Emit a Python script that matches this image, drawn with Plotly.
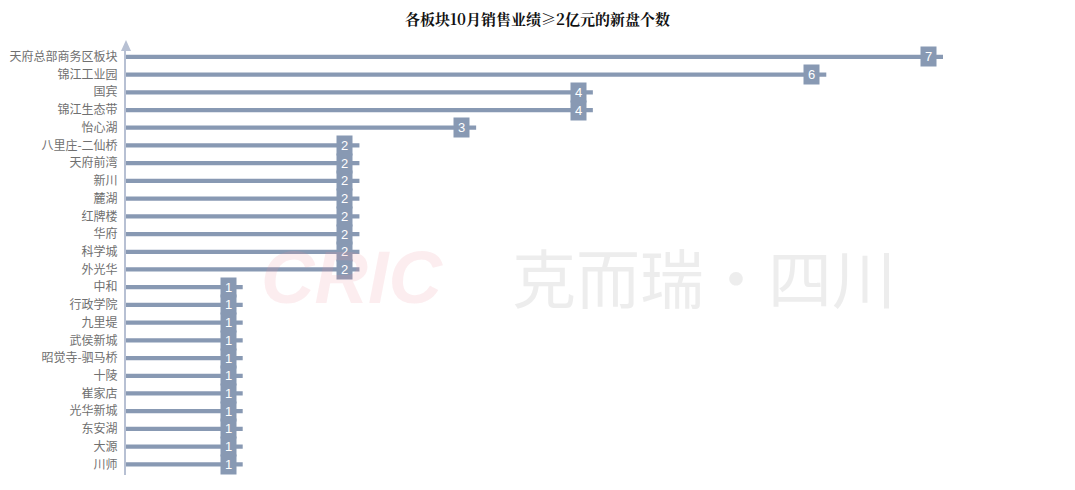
import plotly.graph_objects as go

categories = ["天府总部商务区板块", "锦江工业园", "国宾", "锦江生态带", "怡心湖",
              "八里庄-二仙桥", "天府前湾", "新川", "麓湖", "红牌楼", "华府", "科学城", "外光华",
              "中和", "行政学院", "九里堤", "武侯新城", "昭觉寺-驷马桥", "十陵", "崔家店",
              "光华新城", "东安湖", "大源", "川师"]
values = [7, 6, 4, 4, 3, 2, 2, 2, 2, 2, 2, 2, 2, 1, 1, 1, 1, 1, 1, 1, 1, 1, 1, 1]

title = "各板块10月销售业绩≥2亿元的新盘个数"
bar_color = "#8899b3"
axis_color = "#b7c0d3"

fig = go.Figure()
fig.add_trace(go.Bar(
    x=values, y=categories, orientation="h",
    marker=dict(color=bar_color, line=dict(width=0)),
    width=0.24, hoverinfo="x+y",
))

annotations = []
for c, v in zip(categories, values):
    annotations.append(dict(
        x=v, y=c, xref="x", yref="y", text=str(v), showarrow=False,
        xanchor="right", xshift=-6, font=dict(size=13, color="white", family="Liberation Sans"),
        bgcolor=bar_color, borderpad=2, width=11, height=15,
    ))

# watermark
annotations.append(dict(
    x=0.2766, y=0.4637, xref="paper", yref="paper", text="<b><i>CRIC</i></b>",
    xanchor="center", yanchor="middle",
    showarrow=False, font=dict(size=74, color="rgba(235,140,155,0.16)", family="Liberation Sans"),
))
annotations.append(dict(
    x=0.7075, y=0.468, xref="paper", yref="paper", text="克而瑞·四川",
    xanchor="center", yanchor="middle",
    showarrow=False, font=dict(size=64, color="rgba(190,190,190,0.28)", family="Noto Sans CJK SC"),
))

shapes = [dict(
    type="path", xref="paper", yref="paper", xsizemode="pixel", ysizemode="pixel",
    xanchor=0, yanchor=1, path="M-5,-3 L5,-3 L0,8 Z",
    fillcolor=axis_color, line=dict(width=0),
)]

fig.update_layout(
    width=1059, height=474,
    margin=dict(l=118, r=124, t=40, b=7),
    paper_bgcolor="white", plot_bgcolor="white",
    showlegend=False,
    title=dict(text="<b>" + title + "</b>", x=0.5, xanchor="center", y=0.975, yanchor="middle",
               font=dict(size=15, color="#111111", family="Noto Serif CJK SC, Noto Sans CJK SC")),
    xaxis=dict(range=[0, 7], visible=False, fixedrange=True, automargin=False),
    yaxis=dict(type="category", showgrid=False, zeroline=False, automargin=False,
               showline=True, linecolor=axis_color, linewidth=2,
               ticks="outside", ticklen=4, tickcolor="rgba(0,0,0,0)",
               tickfont=dict(size=12, color="#707070", family="Noto Sans CJK SC"),
               range=[23.6, -0.5]),
    annotations=annotations,
    shapes=shapes,
)

fig.write_html("out.html")
